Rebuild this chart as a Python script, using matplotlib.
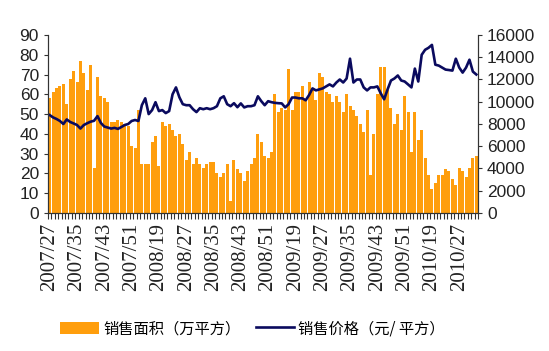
import matplotlib
matplotlib.use('Agg')
import matplotlib.pyplot as plt
import numpy as np

# weekly sales area (万平方), one value per week
area = [58, 61, 63, 64, 65, 55, 68, 72, 66, 77, 71, 62, 75, 23, 69, 59, 58, 56,
        46, 46, 47, 46, 45, 44, 34, 33, 52, 25, 25, 25, 36, 39, 24, 46, 44, 45,
        42, 39, 40, 35, 27, 31, 25, 28, 25, 23, 25, 26, 26, 20, 18, 20, 25, 6,
        27, 22, 20, 16, 21, 25, 28, 40, 36, 29, 28, 31, 60, 51, 53, 52, 73, 52,
        61, 61, 64, 57, 66, 62, 57, 71, 69, 61, 60, 56, 59, 56, 51, 60, 54, 52,
        49, 45, 41, 52, 19, 40, 60, 74, 74, 62, 53, 45, 50, 42, 59, 51, 31, 51,
        37, 42, 28, 19, 12, 15, 19, 19, 22, 21, 17, 14, 23, 21, 18, 23, 28, 29]

# weekly sales price (元/平方)
price = [8800, 8590, 8450, 8270, 8000, 8410, 8180, 8050, 7910, 7590, 7910, 8070,
         8210, 8290, 8710, 8090, 7770, 7680, 7590, 7650, 7560, 7730, 7910, 8000,
         8270, 8360, 8270, 9690, 10310, 8890, 9250, 9960, 9160, 9250, 8980, 9160,
         10670, 11290, 10400, 9780, 9690, 9690, 9330, 9070, 9420, 9330, 9420, 9330,
         9420, 9600, 10310, 10490, 9780, 9600, 9870, 9510, 9850, 9490, 9600, 9600,
         9690, 10490, 10050, 9690, 10050, 9960, 9900, 9870, 9850, 9490, 9780, 10380,
         10380, 10310, 10310, 10130, 10600, 11200, 11020, 11110, 11200, 11380, 11560, 11380,
         11730, 12000, 11730, 12090, 13870, 11730, 12000, 12000, 11290, 11020, 11290, 11290,
         11380, 10760, 10220, 11110, 11910, 12090, 12360, 11910, 11820, 11560, 11290, 12980,
         11820, 14220, 14670, 14850, 15110, 13330, 13250, 13070, 12890, 12850, 12800, 13870,
         13070, 12620, 13070, 13780, 12710, 12450]

week_labels = ['2007/27', '2007/35', '2007/43', '2007/51', '2008/19', '2008/27',
               '2008/35', '2008/43', '2008/51', '2009/19', '2009/27', '2009/35',
               '2009/43', '2009/51', '2010/19', '2010/27']

plt.rcParams['font.family'] = ['Liberation Sans', 'DejaVu Sans']

fig = plt.figure(figsize=(5.49, 3.51), dpi=100)
ax = fig.add_axes([48/549, 1 - 213/351, 430/549, 178/351])
x = np.arange(len(area))

bars = ax.bar(x, area, width=0.88, color='#FF9E0D', linewidth=0,
              label='销售面积（万平方）')
ax.set_xlim(-0.5, len(area) - 0.5)
ax.set_ylim(0, 90)
ax.set_yticks(range(0, 91, 10))
ax.tick_params(axis='y', labelsize=12.5, length=3, colors='#333333', labelcolor='#222222')

ax.set_xticks(x[::8])
ax.set_xticklabels(week_labels, rotation=90, family='Liberation Serif', fontsize=15,
                   color='#222222')
ax.set_xticks(np.arange(-0.5, len(area), 1), minor=True)
ax.tick_params(axis='x', which='major', length=0, pad=7)
ax.tick_params(axis='x', which='minor', length=4, width=0.8, color='#333333')

ax2 = ax.twinx()
line, = ax2.plot(x, price, color='#0A0A5E', lw=1.9, label='销售价格（元/ 平方）')
ax2.set_ylim(0, 16000)
ax2.set_yticks(range(0, 16001, 2000))
ax2.tick_params(axis='y', labelsize=12.5, length=3, colors='#333333', labelcolor='#222222')

for a in (ax, ax2):
    a.spines['top'].set_visible(False)
    for s in ('left', 'right', 'bottom'):
        a.spines[s].set_color('#333333')
        a.spines[s].set_linewidth(0.8)

fig.legend(handles=[bars, line], loc='lower left', bbox_to_anchor=(0.085, 0.0),
           ncol=2, frameon=False, handlelength=2.5, handleheight=0.9,
           handletextpad=0.3, columnspacing=1.0,
           prop={'family': ['Noto Sans CJK SC', 'DejaVu Sans'], 'size': 11})

fig.savefig('out.png', dpi=100)
